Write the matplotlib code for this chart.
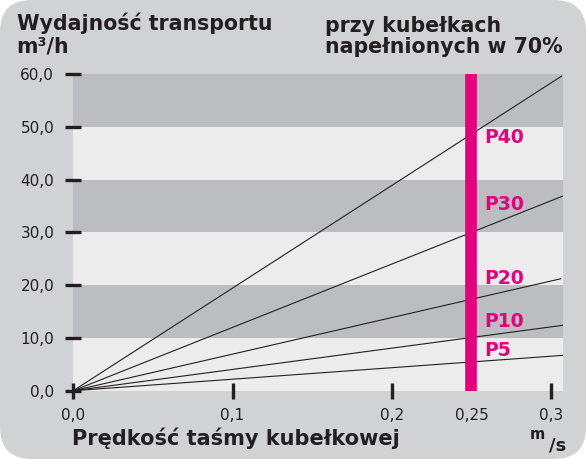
import matplotlib
matplotlib.use("Agg")
import matplotlib.pyplot as plt
from matplotlib.patches import FancyBboxPatch

# speed [m/s] at the right end of each line and capacity [m3/h] there
series = ["P40", "P30", "P20", "P10", "P5"]
end_speed = [0.3066, 0.3076, 0.306, 0.3076, 0.3076]
end_capacity = [59.6, 36.9, 21.2, 12.4, 6.7]
label_y = [48.0, 35.2, 21.3, 13.1, 7.6]

x_ticks = [0.0, 0.1, 0.2, 0.25, 0.3]
x_ticklabels = ["0,0", "0,1", "0,2", "0,25", "0,3"]
y_ticks = [0, 10, 20, 30, 40, 50, 60]
y_ticklabels = ["0,0", "10,0", "20,0", "30,0", "40,0", "50,0", "60,0"]
marked_speed = 0.25

BG = "#d1d2d4"
DARK = "#bcbdc0"
LIGHT = "#ececed"
PINK = "#e5007d"
INK = "#231f20"

W, H = 586, 459
fig = plt.figure(figsize=(W / 100, H / 100), dpi=100)
fig.patch.set_facecolor("white")
fig.add_artist(FancyBboxPatch((0, 0), W / 100, H / 100,
                              boxstyle="round,pad=0,rounding_size=0.32",
                              transform=fig.dpi_scale_trans,
                              facecolor=BG, edgecolor="none", zorder=-10))

ax = fig.add_axes([73.3 / W, 1 - 390.7 / H, 489.4 / W, 316.7 / H])
ax.set_facecolor(LIGHT)
ax.set_xlim(0, 0.3073)
ax.set_ylim(0, 60)
for lo in (10, 30, 50):
    ax.axhspan(lo, lo + 10, color=DARK, lw=0, zorder=0)

for xe, ye in zip(end_speed, end_capacity):
    ax.plot([0, xe], [0, ye], color=INK, lw=0.8, zorder=2)

ax.axvline(marked_speed, color=PINK, lw=8.4, zorder=3)
for name, yl in zip(series, label_y):
    ax.text(0.2578, yl, name, color=PINK, fontsize=13.5, fontweight="bold",
            va="center", ha="left", zorder=4)

for s in ax.spines.values():
    s.set_visible(False)
ax.set_xticks(x_ticks)
ax.set_xticklabels(x_ticklabels)
ax.set_yticks(y_ticks)
ax.set_yticklabels(y_ticklabels)
ax.tick_params(direction="inout", length=11.5, width=2.4, color=INK,
               labelcolor=INK, labelsize=11)
ax.tick_params(axis="y", pad=8)
ax.tick_params(axis="x", pad=7)
# the tick at 0.25 is covered by the bar
ax.xaxis.get_major_ticks()[3].tick1line.set_visible(False)
for t in ax.xaxis.get_major_ticks() + ax.yaxis.get_major_ticks():
    t.tick1line.set_clip_on(False)

def ftext(x, y, s, **kw):
    fig.text(x / W, 1 - y / H, s, va="baseline", color=INK,
             fontweight="bold", **kw)

ftext(16.7, 30, "Wydajność transportu", fontsize=14.8)
ftext(16.7, 53, "m³/h", fontsize=14.8)
ftext(325, 31.5, "przy kubełkach", fontsize=14.8)
ftext(325, 53.3, "napełnionych w 70%", fontsize=14.8)
ftext(72, 445, "Prędkość taśmy kubełkowej", fontsize=15)
ftext(530, 439, "m", fontsize=10.5)
ftext(549, 450, "/s", fontsize=13)

fig.savefig("out.png", dpi=100, facecolor="white")
